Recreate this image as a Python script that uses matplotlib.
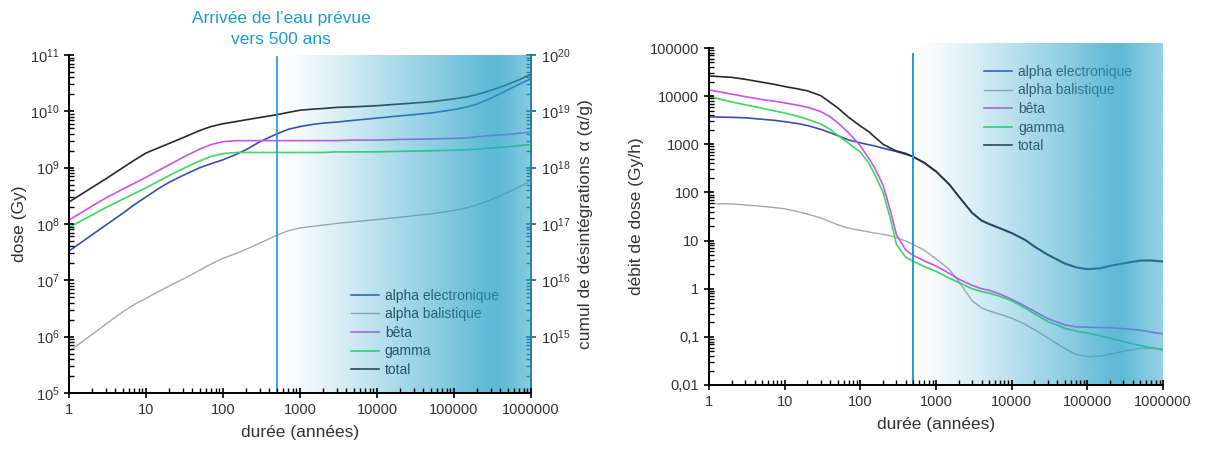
import numpy as np
import matplotlib
matplotlib.use("Agg")
import matplotlib.pyplot as plt
from matplotlib.ticker import FixedLocator, FixedFormatter, LogLocator, NullFormatter

plt.rcParams['font.family'] = ['Liberation Sans', 'DejaVu Sans']
plt.rcParams['mathtext.default'] = 'regular'

# ---------------- data: left panel (cumulative dose, Gy), log10 values ----------------
years_left = [1, 2, 3, 5, 7, 10, 15, 20, 30, 50, 70, 100, 150, 200, 300, 500, 700,
              1000, 1500, 2000, 3000, 5000, 10000, 20000, 50000, 100000, 150000,
              200000, 300000, 500000, 700000, 1000000]
dose_alpha_e_log = [7.52, 7.81, 7.98, 8.19, 8.34, 8.48, 8.64, 8.74, 8.86, 9.00, 9.07, 9.14,
                    9.24, 9.32, 9.46, 9.60, 9.68, 9.73, 9.77, 9.79, 9.81, 9.84, 9.88, 9.92,
                    9.97, 10.03, 10.08, 10.13, 10.23, 10.38, 10.48, 10.58]
dose_alpha_b_log = [5.74, 6.04, 6.22, 6.44, 6.57, 6.68, 6.81, 6.90, 7.02, 7.18, 7.29, 7.39,
                    7.48, 7.55, 7.66, 7.80, 7.88, 7.93, 7.96, 7.98, 8.01, 8.04, 8.08, 8.12,
                    8.18, 8.24, 8.29, 8.34, 8.43, 8.56, 8.66, 8.76]
dose_beta_log = [8.07, 8.32, 8.46, 8.62, 8.72, 8.83, 8.96, 9.05, 9.18, 9.33, 9.41, 9.46,
                 9.48, 9.48, 9.48, 9.48, 9.48, 9.48, 9.48, 9.48, 9.48, 9.49, 9.49, 9.50,
                 9.51, 9.52, 9.53, 9.55, 9.57, 9.59, 9.61, 9.63]
dose_gamma_log = [7.94, 8.16, 8.29, 8.44, 8.54, 8.64, 8.77, 8.86, 8.98, 9.12, 9.20, 9.25,
                  9.27, 9.27, 9.27, 9.27, 9.27, 9.27, 9.27, 9.27, 9.28, 9.28, 9.28, 9.29,
                  9.30, 9.31, 9.32, 9.33, 9.35, 9.37, 9.39, 9.41]
dose_total_log = [8.39, 8.65, 8.80, 9.00, 9.13, 9.26, 9.36, 9.43, 9.53, 9.66, 9.73, 9.78,
                  9.82, 9.85, 9.89, 9.94, 9.98, 10.02, 10.04, 10.05, 10.07, 10.08, 10.10,
                  10.13, 10.17, 10.22, 10.26, 10.30, 10.37, 10.48, 10.56, 10.66]

# ---------------- data: right panel (dose rate, Gy/h), log10 values ----------------
years_right = [1, 2, 3, 5, 7, 10, 15, 20, 30, 40, 50, 70, 100, 130, 150, 200, 250, 300,
               400, 500, 700, 1000, 1500, 2000, 3000, 4000, 5000, 7000, 10000, 15000,
               20000, 30000, 50000, 70000, 100000, 150000, 200000, 300000, 500000,
               700000, 1000000]
rate_alpha_e_log = [3.57, 3.56, 3.55, 3.52, 3.50, 3.47, 3.43, 3.39, 3.31, 3.24, 3.18, 3.09,
                    3.03, 2.99, 2.97, 2.92, 2.88, 2.85, 2.79, 2.74, 2.61, 2.43, 2.16, 1.91,
                    1.57, 1.41, 1.34, 1.25, 1.15, 1.01, 0.87, 0.70, 0.52, 0.44, 0.40,
                    0.42, 0.47, 0.52, 0.58, 0.58, 0.56]
rate_alpha_b_log = [1.77, 1.76, 1.74, 1.71, 1.69, 1.66, 1.60, 1.55, 1.47, 1.39, 1.33, 1.26,
                    1.21, 1.18, 1.16, 1.13, 1.10, 1.06, 0.99, 0.92, 0.80, 0.62, 0.40, 0.15,
                    -0.25, -0.40, -0.46, -0.53, -0.61, -0.74, -0.85, -1.02, -1.24, -1.36,
                    -1.41, -1.40, -1.36, -1.30, -1.24, -1.23, -1.25]
rate_beta_log = [4.13, 4.04, 3.99, 3.93, 3.90, 3.86, 3.81, 3.77, 3.68, 3.57, 3.45, 3.24,
                 2.97, 2.70, 2.55, 2.15, 1.62, 1.12, 0.80, 0.69, 0.58, 0.47, 0.32, 0.20,
                 0.07, 0.00, -0.03, -0.11, -0.22, -0.36, -0.47, -0.62, -0.75, -0.79,
                 -0.80, -0.81, -0.81, -0.83, -0.86, -0.90, -0.94]
rate_gamma_log = [3.99, 3.88, 3.82, 3.75, 3.70, 3.65, 3.58, 3.52, 3.42, 3.31, 3.19, 3.02,
                  2.84, 2.60, 2.42, 2.00, 1.45, 0.92, 0.65, 0.57, 0.46, 0.36, 0.22, 0.13,
                  0.00, -0.06, -0.09, -0.16, -0.25, -0.40, -0.52, -0.68, -0.82, -0.88,
                  -0.92, -0.98, -1.03, -1.10, -1.18, -1.23, -1.27]
rate_total_log = [4.42, 4.39, 4.35, 4.29, 4.25, 4.20, 4.15, 4.11, 4.01, 3.87, 3.76, 3.56,
                  3.38, 3.26, 3.17, 3.00, 2.92, 2.86, 2.81, 2.74, 2.62, 2.44, 2.17, 1.92,
                  1.58, 1.42, 1.35, 1.26, 1.16, 1.02, 0.88, 0.71, 0.53, 0.45, 0.41,
                  0.43, 0.48, 0.53, 0.59, 0.59, 0.57]

series_names = ["alpha electronique", "alpha balistique", "bêta", "gamma", "total"]
x_tick_vals = [1, 10, 100, 1000, 10000, 100000, 1000000]
x_tick_labels = ["1", "10", "100", "1000", "10000", "100000", "1000000"]
rate_tick_vals = [0.01, 0.1, 1, 10, 100, 1000, 10000, 100000]
rate_tick_labels = ["0,01", "0,1", "1", "10", "100", "1000", "10000", "100000"]
water_year = 500

colors = ["#3b4fae", "#a8a8a8", "#c855e6", "#3fd860", "#2a2a2a"]
widths = [1.2, 1.0, 1.2, 1.2, 1.2]
tick_color = "#333333"
accent = "#1a9bd4"

fig = plt.figure(figsize=(12.06, 4.5), dpi=100)
axL = fig.add_axes([69/1206, 1-393/450, 462/1206, 338/450])
axR = fig.add_axes([709/1206, 1-385/450, 454/1206, 337/450])


def gradient(ax, x0frac, fr, al, top=1.0):
    n = 400
    f = np.linspace(x0frac, 1, n)
    a = np.interp(f, fr, al)
    img = np.zeros((2, n, 4))
    img[..., 0] = 40/255
    img[..., 1] = 162/255
    img[..., 2] = 200/255
    img[..., 3] = a[None, :]
    ax.imshow(img, extent=[x0frac, 1, 0, top], transform=ax.transAxes,
              aspect='auto', zorder=6, interpolation='bilinear', clip_on=False)


def style_axes(ax):
    ax.set_xscale('log')
    ax.set_yscale('log')
    ax.set_xlim(1, 1e6)
    ax.spines['top'].set_visible(False)
    ax.spines['right'].set_visible(False)
    for s in ['left', 'bottom']:
        ax.spines[s].set_linewidth(1.4)
        ax.spines[s].set_zorder(10)
    ax.xaxis.set_major_locator(FixedLocator(x_tick_vals))
    ax.xaxis.set_major_formatter(FixedFormatter(x_tick_labels))
    ax.xaxis.set_minor_locator(LogLocator(base=10, subs=np.arange(2, 10), numticks=20))
    ax.xaxis.set_minor_formatter(NullFormatter())
    ax.yaxis.set_minor_locator(LogLocator(base=10, subs=np.arange(2, 10), numticks=20))
    ax.yaxis.set_minor_formatter(NullFormatter())
    ax.tick_params(which='major', direction='inout', length=7, width=1.2,
                   labelsize=10.5, labelcolor=tick_color, top=False, right=False)
    ax.tick_params(which='minor', direction='in', length=3.5, width=1.0,
                   top=False, right=False)
    ax.xaxis.set_zorder(10)
    ax.yaxis.set_zorder(10)
    ax.set_xlabel("durée (années)", fontsize=12.5, color=tick_color, labelpad=6)


# ---------- left panel ----------
style_axes(axL)
axL.set_ylim(1e5, 1e11)
axL.yaxis.set_major_locator(FixedLocator([1e5, 1e6, 1e7, 1e8, 1e9, 1e10, 1e11]))
left_data = [dose_alpha_e_log, dose_alpha_b_log, dose_beta_log, dose_gamma_log, dose_total_log]
for vals, c, w, name in zip(left_data, colors, widths, series_names):
    axL.plot(years_left, 10 ** np.array(vals), color=c, lw=w, label=name, zorder=3)
axL.set_ylabel("dose (Gy)", fontsize=12.5, color=tick_color, labelpad=2)
axL.plot([water_year, water_year], [1e5, 10 ** 10.96], color=accent, lw=1.2, zorder=7)
legL = axL.legend(loc='center', bbox_to_anchor=(0.77, 0.178), frameon=False, fontsize=10,
                  labelspacing=0.33, handlelength=2.0, handletextpad=0.45,
                  labelcolor='#222222')
legL.set_zorder(4)
fr = [0.45, 0.5, 0.58, 0.67, 0.8, 0.9, 0.93, 0.96, 1.0]
al = [0.0, 0.05, 0.17, 0.33, 0.55, 0.73, 0.75, 0.68, 0.55]
gradient(axL, np.log10(water_year) / 6, fr, al)

sec = axL.secondary_yaxis('right', functions=(lambda y: y * 1e9, lambda y: y / 1e9))
sec.set_yscale('log')
sec.yaxis.set_major_locator(FixedLocator([1e15, 1e16, 1e17, 1e18, 1e19, 1e20]))
sec.yaxis.set_minor_locator(LogLocator(base=10, subs=np.arange(2, 10), numticks=20))
sec.yaxis.set_minor_formatter(NullFormatter())
sec.tick_params(which='major', direction='inout', length=7, width=1.2, labelsize=10.5,
                labelcolor=tick_color, color='#1d5f7a')
sec.tick_params(which='minor', direction='in', length=3.5, width=1.0, color='#1d5f7a')
sec.spines['right'].set_color('#1d5f7a')
sec.spines['right'].set_linewidth(1.4)
sec.set_ylabel("cumul de désintégrations α (α/g)", fontsize=12.5, color=tick_color,
               labelpad=6)

fig.text(281/1206, 1-18/450, "Arrivée de l’eau prévue", ha='center', va='center',
         fontsize=12.5, color=accent)
fig.text(281/1206, 1-39/450, "vers 500 ans", ha='center', va='center',
         fontsize=12.5, color=accent)

# ---------- right panel ----------
style_axes(axR)
axR.set_ylim(0.01, 1e5)
axR.yaxis.set_major_locator(FixedLocator(rate_tick_vals))
axR.yaxis.set_major_formatter(FixedFormatter(rate_tick_labels))
right_data = [rate_alpha_e_log, rate_alpha_b_log, rate_beta_log, rate_gamma_log, rate_total_log]
for vals, c, w, name in zip(right_data, colors, widths, series_names):
    axR.plot(years_right, 10 ** np.array(vals), color=c, lw=w, label=name, zorder=3)
axR.set_ylabel("débit de dose (Gy/h)", fontsize=12.5, color=tick_color, labelpad=4)
axR.plot([water_year, water_year], [0.01, 10 ** 4.88], color=accent, lw=1.4, zorder=7)
legR = axR.legend(loc='center', bbox_to_anchor=(0.769, 0.819), frameon=False, fontsize=10,
                  labelspacing=0.33, handlelength=2.0, handletextpad=0.45,
                  labelcolor='#333333')
legR.set_zorder(4)
frR = [0.45, 0.5, 0.58, 0.67, 0.8, 0.88, 0.91, 0.95, 1.0]
alR = [0.0, 0.05, 0.17, 0.33, 0.55, 0.72, 0.74, 0.62, 0.5]
gradient(axR, np.log10(water_year) / 6, frR, alR, top=1.012)

fig.savefig("out.png", dpi=100)
